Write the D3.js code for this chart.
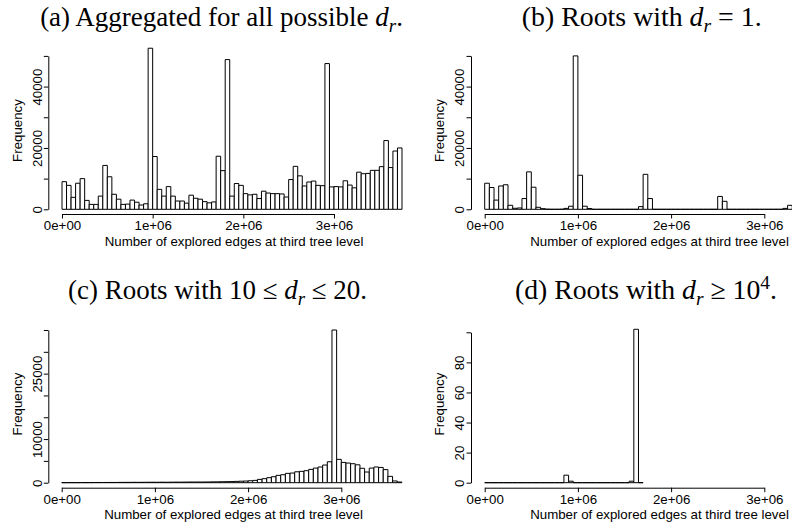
<!DOCTYPE html>
<html><head><meta charset="utf-8">
<script src="https://cdn.jsdelivr.net/npm/d3@7"></script>
<style>body{margin:0;background:#fff}svg{display:block}</style>
</head><body><svg id="c" width="792" height="527"></svg>
<script>
// ---- data ----
const binWidth = 50000;
const countsA = [9000,7800,3900,8500,10000,2900,1600,1600,4300,14300,
  10600,4900,3300,1600,1700,3000,2300,1400,1800,52500,
  17200,6500,4300,7400,4300,2700,2700,2000,4600,3600,
  3300,2500,2100,2400,17300,12600,48800,4300,8400,7800,
  5100,4700,4900,3500,5900,5300,5100,5100,5000,4000,
  9700,14000,10900,7600,8900,9200,7800,7700,47500,7300,
  7400,7300,9300,7900,7000,12100,11600,11700,12700,12700,
  13900,22400,13600,19000,20000];
const countsB = [8500,7100,3000,7600,8000,1300,330,430,3500,12200,
  7200,650,200,40,0,0,30,300,1000,50000,
  11100,1000,250,0,0,0,0,0,0,0,
  0,0,0,870,11400,3500,0,0,0,0,
  0,0,0,0,0,0,0,0,0,0,
  4200,2600,0,0,0,0,0,0,0,0,
  0,0,0,0,300,1300];
const countsC = [10,15,20,20,30,25,35,40,45,50,
  60,55,70,75,80,90,85,95,100,110,
  100,115,105,120,130,125,140,150,150,160,
  160,170,190,200,220,240,260,300,340,380,
  450,530,760,920,1150,1370,1680,1830,2140,2210,
  2500,2600,2750,3050,3350,3600,4050,4800,35000,5350,
  4650,4500,4350,4100,3300,2450,3350,3600,3500,3000,
  1450,400,150];
const countsD = [0,0,0,0,0,0,0,0,0,0,
  0,0,0,0,0,0,0,5,1,0,
  0,0,0,0,0,0,0,0,0,0,
  0,1,102,0];
const xTickValues = [0,1e6,2e6,3e6];
const xTickLabels = ["0e+00","1e+06","2e+06","3e+06"];
const yTicksAB = [0,10000,20000,30000,40000,50000];
const yLabelsAB = ["0","","20000","","40000",""];
const yTicksC = [0,5000,10000,15000,20000,25000,30000,35000];
const yLabelsC = ["0","","10000","","","25000","",""];
const yTicksD = [0,20,40,60,80,100];
const yLabelsD = ["0","20","40","60","80",""];
const xLabel = "Number of explored edges at third tree level";
const yLabel = "Frequency";
const titles = [
  [{t:"(a) Aggregated for all possible "},{t:"d",it:1},{t:"r",it:1,sub:1},{t:"."}],
  [{t:"(b) Roots with "},{t:"d",it:1},{t:"r",it:1,sub:1},{t:" = 1."}],
  [{t:"(c) Roots with 10 \u2264 "},{t:"d",it:1},{t:"r",it:1,sub:1},{t:" \u2264 20."}],
  [{t:"(d) Roots with "},{t:"d",it:1},{t:"r",it:1,sub:1},{t:" \u2265 10"},{t:"4",sup:1},{t:"."}]
];

// ---- layout ----
const panels = [
  {counts:countsA, xr:[62,334], yr:[209.3,55.9], ymax:50000, yt:yTicksAB, yl:yLabelsAB, ax:48.3, xay:214, xlc:234, ylc:130.5, tc:221.5, ty:25.8, tw:363},
  {counts:countsB, xr:[484.7,764.3], yr:[209.3,55.9], ymax:50000, yt:yTicksAB, yl:yLabelsAB, ax:471, xay:214, xlc:659.5, ylc:130.5, tc:641.7, ty:25.8, tw:240},
  {counts:countsC, xr:[61.7,341.3], yr:[482.7,330], ymax:35000, yt:yTicksC, yl:yLabelsC, ax:48.3, xay:487.7, xlc:233.5, ylc:404, tc:217.5, ty:299.2, tw:299},
  {counts:countsD, xr:[484.7,764.3], yr:[482.7,332.3], ymax:100, yt:yTicksD, yl:yLabelsD, ax:471, xay:487.7, xlc:659.5, ylc:404, tc:646, ty:299.2, tw:262}
];
const SANS = "'Liberation Sans', Arial, Helvetica, sans-serif";
const SERIF = "'Liberation Serif', 'Times New Roman', serif";
const FS = 13.3;

const svg = d3.select("#c");
svg.append("rect").attr("width",792).attr("height",527).attr("fill","#fff");

function drawTitle(parts, cx, y, tw){
  const g = svg.append("g");
  function build(fs){
    g.selectAll("*").remove();
    const t = g.append("text").attr("x",cx).attr("y",y).attr("text-anchor","middle")
      .attr("font-family",SERIF).attr("font-size",fs).attr("fill","#000");
    let shift = 0;
    parts.forEach(p=>{
      const s = t.append("tspan").text(p.t);
      if(p.it) s.attr("font-style","italic");
      let target = 0;
      if(p.sub){ s.attr("font-size",fs*0.7); target = fs*0.22; }
      if(p.sup){ s.attr("font-size",fs*0.7); target = -fs*0.38; }
      if(target!==shift){ s.attr("dy",target-shift); shift = target; }
    });
    return t;
  }
  let t = build(24);
  const w = t.node().getBBox().width;
  build(24*tw/w);
}

panels.forEach((p,pi)=>{
  const x = d3.scaleLinear().domain([0,3e6]).range(p.xr);
  const y = d3.scaleLinear().domain([0,p.ymax]).range(p.yr);
  const g = svg.append("g");
  // bars
  g.selectAll("path.bar").data(p.counts).join("path").attr("class","bar")
    .attr("d",(c,i)=>{
      const x0 = x(i*binWidth), x1 = x((i+1)*binWidth), y0 = y(0), y1 = y(c);
      return `M${x0},${y0}V${y1}H${x1}V${y0}Z`;
    })
    .attr("fill","#fff").attr("stroke","#000").attr("stroke-width",1);
  // x axis
  const xa = g.append("g").attr("transform",`translate(0,${p.xay})`)
    .call(d3.axisBottom(x).tickValues(xTickValues).tickFormat((d,i)=>xTickLabels[i]).tickSize(4.5).tickSizeOuter(0));
  xa.selectAll("text").attr("y",16).attr("dy",0).attr("font-family",SANS).attr("font-size",FS).attr("fill","#000");
  xa.selectAll("line,path").attr("stroke","#000");
  xa.attr("font-size",null).attr("font-family",null);
  // y axis
  const ya = g.append("g").attr("transform",`translate(${p.ax},0)`)
    .call(d3.axisLeft(y).tickValues(p.yt).tickFormat((d,i)=>p.yl[i]).tickSize(4.5).tickSizeOuter(0));
  ya.selectAll("text").attr("x",0).attr("y",-6.8).attr("dy",0).attr("transform","rotate(-90)")
    .attr("text-anchor","middle").attr("font-family",SANS).attr("font-size",FS).attr("fill","#000");
  ya.selectAll("line,path").attr("stroke","#000");
  ya.attr("font-size",null).attr("font-family",null);
  // axis titles
  g.append("text").attr("x",p.xlc).attr("y",p.xay+31.6).attr("text-anchor","middle")
    .attr("font-family",SANS).attr("font-size",FS).attr("fill","#000").text(xLabel);
  g.append("text").attr("transform",`translate(${p.ax-26.6},${p.ylc}) rotate(-90)`).attr("text-anchor","middle")
    .attr("font-family",SANS).attr("font-size",FS).attr("fill","#000").text(yLabel);
  drawTitle(titles[pi], p.tc, p.ty, p.tw);
});
</script></body></html>
